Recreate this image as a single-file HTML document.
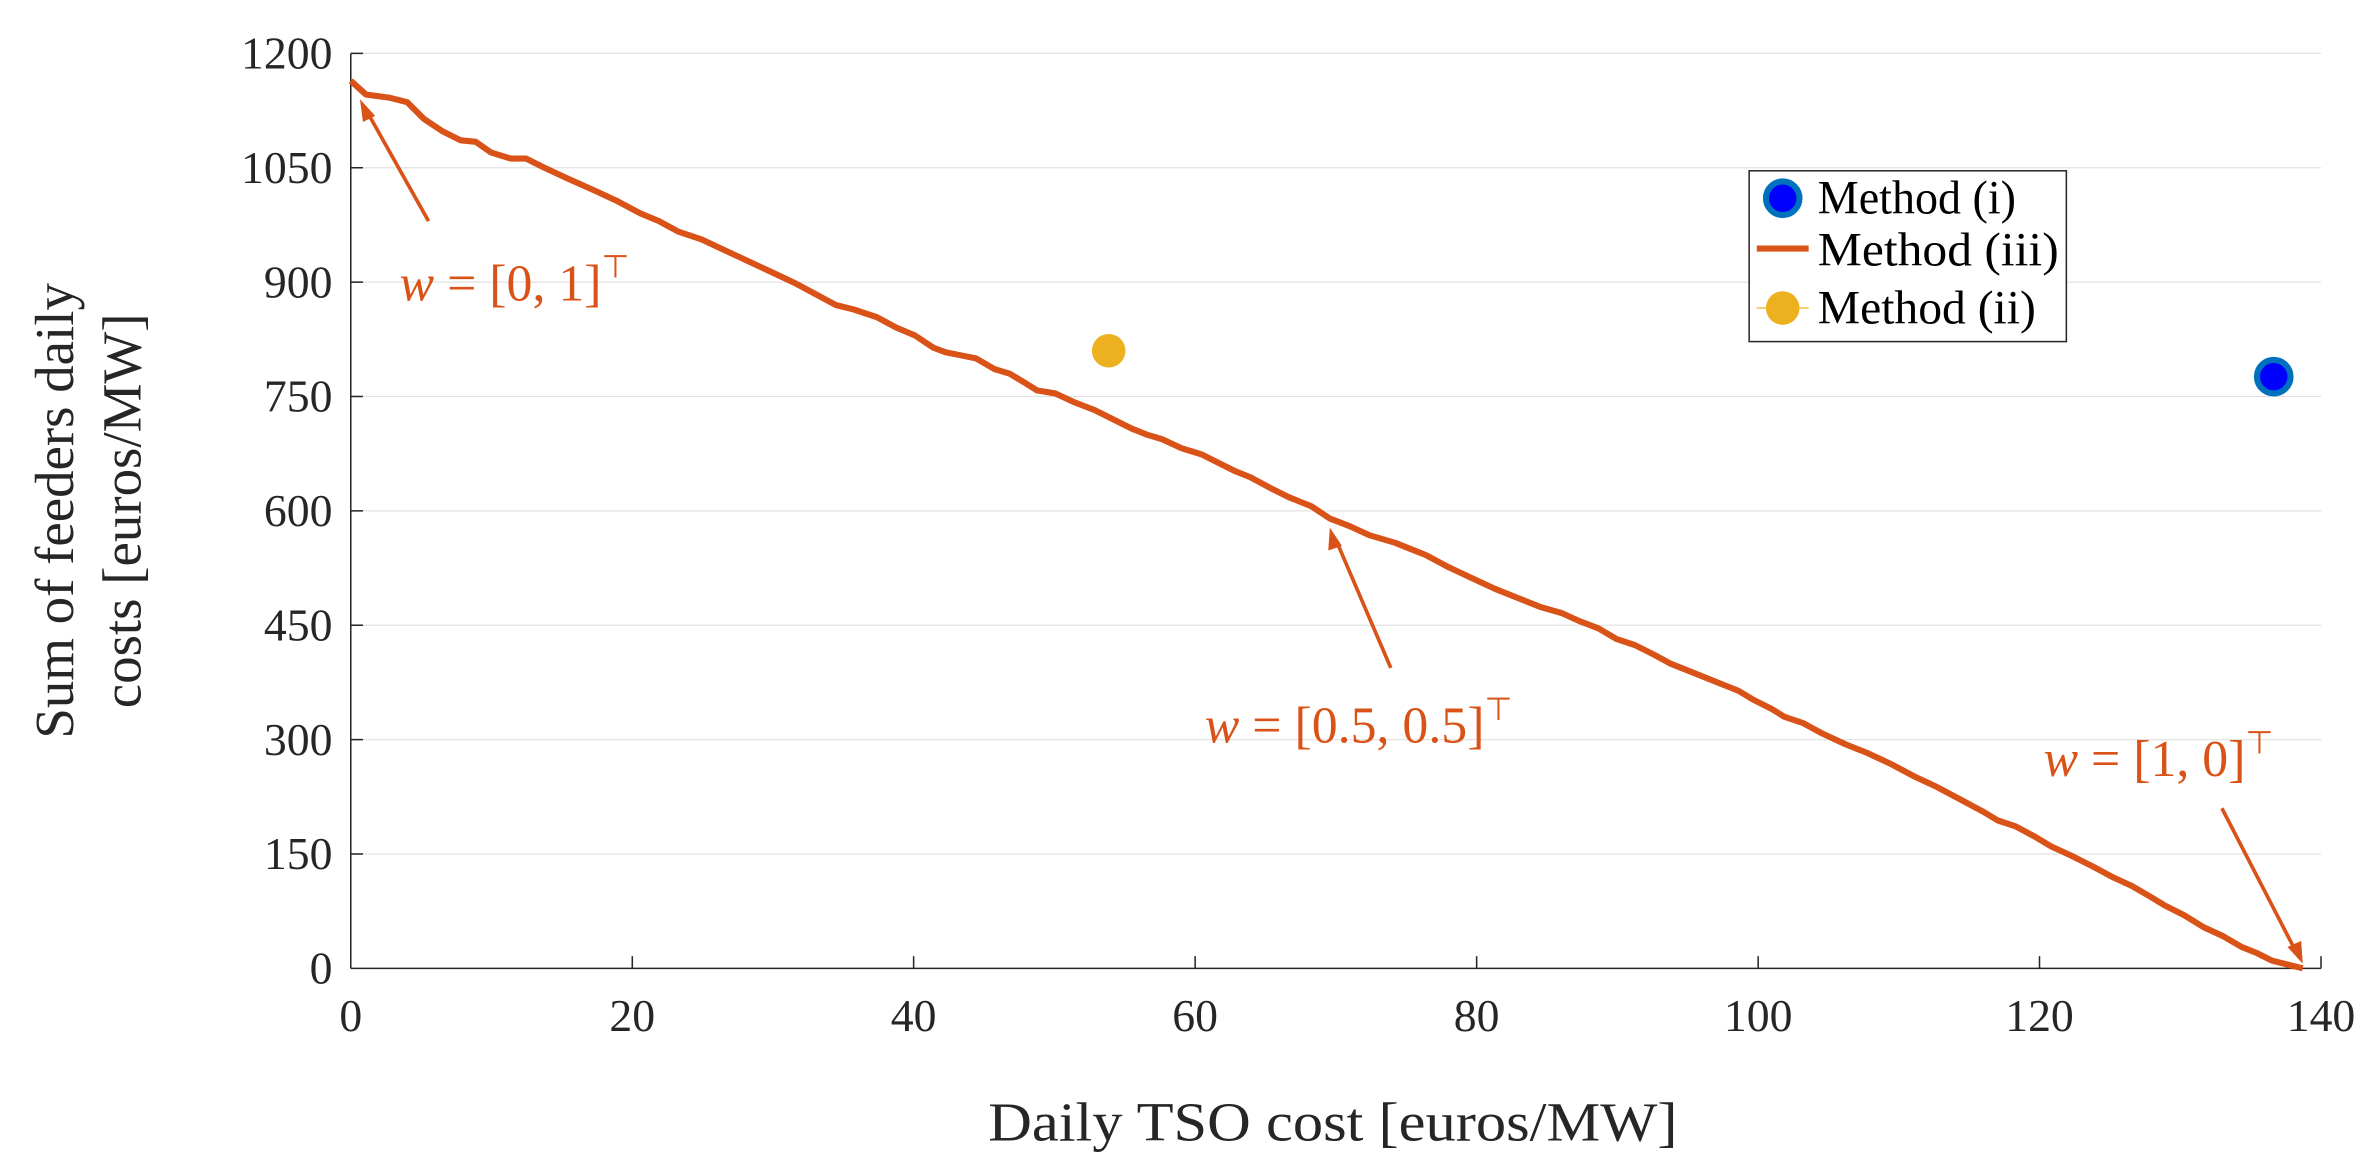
<!DOCTYPE html>
<html><head><meta charset="utf-8"><style>
html,body{margin:0;padding:0;background:#fff;}
svg{display:block;}
text{font-family:"Liberation Serif",serif;}
</style></head><body>
<svg width="2379" height="1173" viewBox="0 0 1560 769.2" xmlns="http://www.w3.org/2000/svg">
<g stroke="#e2e2e2" stroke-width="0.8">
<line x1="230" y1="35" x2="1522" y2="35"/>
<line x1="230" y1="110" x2="1522" y2="110"/>
<line x1="230" y1="185" x2="1522" y2="185"/>
<line x1="230" y1="260" x2="1522" y2="260"/>
<line x1="230" y1="335" x2="1522" y2="335"/>
<line x1="230" y1="410" x2="1522" y2="410"/>
<line x1="230" y1="485" x2="1522" y2="485"/>
<line x1="230" y1="560" x2="1522" y2="560"/>
</g>
<g stroke="#262626" stroke-width="1">
<line x1="230" y1="35" x2="230" y2="635"/>
<line x1="230" y1="635" x2="1522" y2="635"/>
<line x1="230" y1="35" x2="238" y2="35"/><line x1="230" y1="110" x2="238" y2="110"/>
<line x1="230" y1="185" x2="238" y2="185"/><line x1="230" y1="260" x2="238" y2="260"/>
<line x1="230" y1="335" x2="238" y2="335"/><line x1="230" y1="410" x2="238" y2="410"/>
<line x1="230" y1="485" x2="238" y2="485"/><line x1="230" y1="560" x2="238" y2="560"/>
<line x1="414.6" y1="635" x2="414.6" y2="627"/><line x1="599.1" y1="635" x2="599.1" y2="627"/>
<line x1="783.7" y1="635" x2="783.7" y2="627"/><line x1="968.3" y1="635" x2="968.3" y2="627"/>
<line x1="1152.9" y1="635" x2="1152.9" y2="627"/><line x1="1337.4" y1="635" x2="1337.4" y2="627"/>
<line x1="1522" y1="635" x2="1522" y2="627"/>
</g>
<g font-size="30" fill="#262626" text-anchor="end">
<text x="218" y="45">1200</text><text x="218" y="120">1050</text><text x="218" y="195">900</text>
<text x="218" y="270">750</text><text x="218" y="345">600</text><text x="218" y="420">450</text>
<text x="218" y="495">300</text><text x="218" y="570">150</text><text x="218" y="645">0</text>
</g>
<g font-size="30" fill="#262626" text-anchor="middle">
<text x="230" y="676">0</text><text x="414.6" y="676">20</text><text x="599.1" y="676">40</text>
<text x="783.7" y="676">60</text><text x="968.3" y="676">80</text><text x="1152.9" y="676">100</text>
<text x="1337.4" y="676">120</text><text x="1522" y="676">140</text>
</g>
<text x="648" y="748" font-size="36" fill="#262626" textLength="452" lengthAdjust="spacingAndGlyphs">Daily TSO cost [euros/MW]</text>
<text transform="translate(48,335) rotate(-90)" font-size="36" fill="#262626" text-anchor="middle">Sum of feeders daily</text>
<text transform="translate(92,335) rotate(-90)" font-size="36" fill="#262626" text-anchor="middle">costs [euros/MW]</text>
<polyline fill="none" stroke="#D95319" stroke-width="4" stroke-linejoin="round" points="230,53 240,62 255,64 267,67 278,78 290,86 302,92 312,93 322,100 335,104 345,104 357,110 372,117 390,125 405,132 420,140 432,145 445,152 460,157 475,164 490,171 505,178 522,186 535,193 548,200 560,203 575,208 588,215 600,220 612,228 620,231 630,233 640,235 652,242 662,245 672,251 680,256 692,258 705,264 718,269 730,275 742,281 752,285 762,288 775,294 788,298 800,304 810,309 820,313 833,320 845,326 860,332 872,340 885,345 898,351 915,356 925,360 935,364 950,372 965,379 980,386 995,392 1010,398 1024,402 1035,407 1048,412 1060,419 1072,423 1084,429 1095,435 1110,441 1125,447 1140,453 1150,459 1162,465 1170,470 1182,474 1195,481 1210,488 1225,494 1240,501 1255,509 1270,516 1285,524 1300,532 1310,538 1322,542 1335,549 1345,555 1358,561 1372,568 1385,575 1398,581 1410,588 1420,594 1432,600 1445,608 1458,614 1470,621 1480,625 1490,630 1510,635"/>
<g stroke="#D95319" stroke-width="2.4" fill="#D95319">
<line x1="281" y1="145" x2="240" y2="72"/><polygon points="236,65 246,76 238,80" stroke="none"/>
<line x1="912" y1="438" x2="876" y2="354"/><polygon points="872,346 880,358 871,361" stroke="none"/>
<line x1="1457" y1="530" x2="1505" y2="623"/><polygon points="1510,632 1500,621 1509,617" stroke="none"/>
</g>
<g fill="#D95319" font-size="34">
<text x="262" y="197"><tspan font-style="italic">w</tspan> = [0, 1]<tspan font-size="21" dy="-15">⊤</tspan></text>
<text x="790" y="487"><tspan font-style="italic">w</tspan> = [0.5, 0.5]<tspan font-size="21" dy="-15">⊤</tspan></text>
<text x="1340" y="509"><tspan font-style="italic">w</tspan> = [1, 0]<tspan font-size="21" dy="-15">⊤</tspan></text>
</g>
<circle cx="727" cy="230" r="11" fill="#EDB120"/>
<circle cx="1491" cy="247" r="11" fill="#0000ff" stroke="#0072BD" stroke-width="4"/>
<rect x="1147" y="112" width="208" height="112" fill="#fff" stroke="#262626" stroke-width="1"/>
<circle cx="1169" cy="130" r="11" fill="#0000ff" stroke="#0072BD" stroke-width="4"/>
<line x1="1152" y1="163" x2="1186" y2="163" stroke="#D95319" stroke-width="4"/>
<line x1="1152" y1="202" x2="1186" y2="202" stroke="#EDB120" stroke-width="0.8"/>
<circle cx="1169" cy="202" r="11" fill="#EDB120"/>
<g font-size="31" fill="#000">
<text x="1192" y="140" textLength="130" lengthAdjust="spacingAndGlyphs">Method (i)</text>
<text x="1192" y="174" textLength="158" lengthAdjust="spacingAndGlyphs">Method (iii)</text>
<text x="1192" y="212" textLength="143" lengthAdjust="spacingAndGlyphs">Method (ii)</text>
</g>
</svg>
</body></html>
